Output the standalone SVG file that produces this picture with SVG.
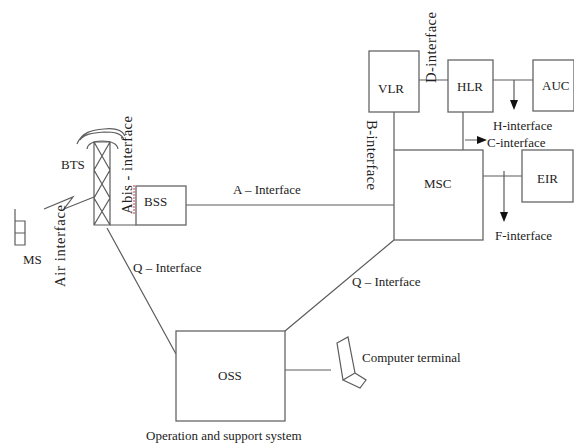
<svg xmlns="http://www.w3.org/2000/svg" width="574" height="444" viewBox="0 0 574 444">
<style>
text{font-family:"Liberation Serif","Times New Roman",serif;font-size:13px;fill:#222}
.n{fill:#fff;stroke:#666;stroke-width:1.3}
.l{fill:none;stroke:#5c5c5c;stroke-width:1.2}
.a{fill:#111}
.v{font-size:14.5px}
</style>
<rect width="574" height="444" fill="#fff"/>
<g id="connectors">
<path class="l" d="M110 225H136M186 205H394M394 112V150M417 80H448M463 112V150M493 80H533M483 176H522M107 228L176 354M394 240L285 331M331 370H285"/>
<path class="l" d="M514 80V104M465 140H480M504 171V216"/>
<path class="a" d="M510 100H518L514 110ZM477 136L487 140L477 144ZM500 212H508L504 222Z"/>
<path class="l" d="M94 197L64 209L73 197L44 209"/>
</g>
<g id="MS"><path class="l" d="M15 209V245H25V221H15M15 233H25"/><text x="23" y="264">MS</text></g>
<g id="BTS">
<path class="l" stroke-width="1.5" d="M94 142H110V225H94ZM94 142L110 170L94 198L110 225M110 142L94 170L110 198L94 225"/>
<path class="l" d="M87 149C88 143 93 141 102 141C111 141 117 143 118 149M80 140C84 134 92 133 104 132C114 132 122 133 124 140M77 144C82 132 92 130 104 129C114 128 122 129 125 136"/>
<text x="61" y="169">BTS</text>
</g>
<g id="BSS"><rect class="n" x="136" y="186" width="50" height="39"/><text x="144" y="206">BSS</text></g>
<g id="VLR"><rect class="n" x="369" y="51" width="50" height="61"/><text x="378" y="93">VLR</text></g>
<g id="HLR"><rect class="n" x="448" y="60" width="45" height="52"/><text x="457" y="91">HLR</text></g>
<g id="AUC"><rect class="n" x="533" y="60" width="41" height="51"/><text x="542" y="90">AUC</text></g>
<g id="MSC"><rect class="n" x="394" y="150" width="89" height="90"/><text x="424" y="188">MSC</text></g>
<g id="EIR"><rect class="n" x="522" y="150" width="51" height="52"/><text x="537" y="183">EIR</text></g>
<g id="OSS"><rect class="n" x="176" y="331" width="109" height="90"/><text x="218" y="380">OSS</text></g>
<g id="terminal"><path class="l" d="M337 343L348 337L355 373L343 380ZM355 373L366 380L360 388L343 380"/><text x="362" y="362">Computer terminal</text></g>
<g id="labels">
<text x="233" y="194">A – Interface</text>
<text x="133" y="272">Q – Interface</text>
<text x="352" y="286">Q – Interface</text>
<text x="146" y="440">Operation and support system</text>
<text x="493" y="130">H-interface</text>
<text x="487" y="147">C-interface</text>
<text x="495" y="240">F-interface</text>
<text class="v" transform="translate(65 287) rotate(-90)" textLength="82" lengthAdjust="spacing">Air interface</text>
<text class="v" transform="translate(132 214) rotate(-90)" textLength="98" lengthAdjust="spacing">Abis - interface</text>
<path d="M134 214V185" fill="none" stroke="#d33" stroke-width="1" stroke-dasharray="2 1"/>
<text class="v" transform="translate(436 83) rotate(-90)" textLength="71" lengthAdjust="spacing">D-interface</text>
<text class="v" transform="translate(367 120) rotate(90)" textLength="70" lengthAdjust="spacing">B-interface</text>
</g>
</svg>
